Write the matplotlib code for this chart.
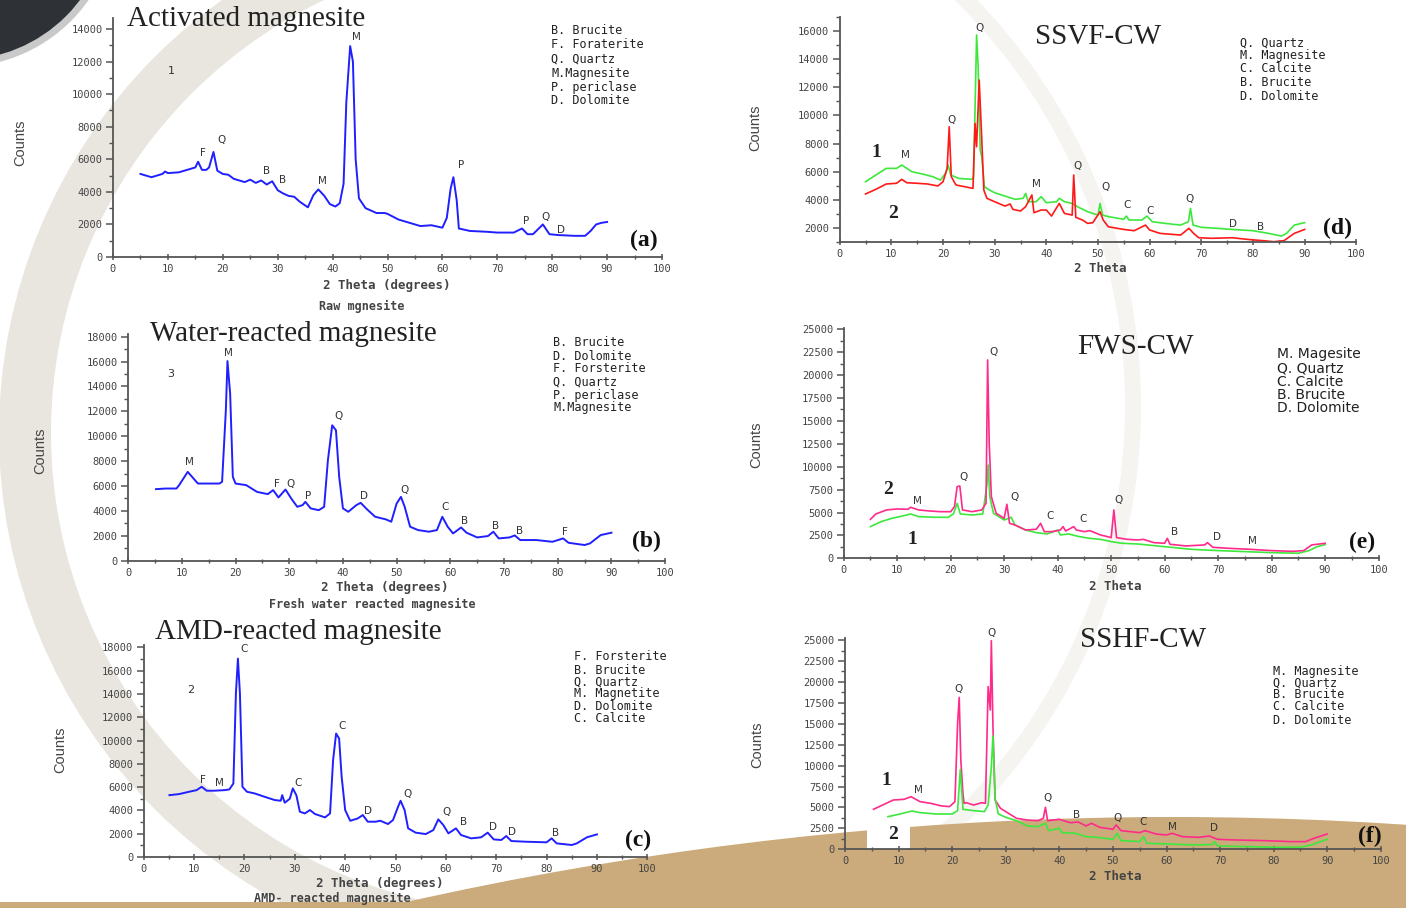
import matplotlib
matplotlib.use("Agg")
import matplotlib.pyplot as plt
from matplotlib.patches import Circle, Wedge, Rectangle
from matplotlib.transforms import Affine2D
from matplotlib.ticker import MultipleLocator

# ---------------- data (2 theta, counts) ----------------
a_theta = [5, 6, 7, 8, 9, 9.5, 10, 12, 13, 14, 15, 15.5, 16.2, 17, 17.5, 18.3, 19, 20, 21, 22, 24, 25, 26, 27, 28, 29,
           30, 31, 32, 33, 34, 35.5, 36.5, 37.4, 38.5, 39.5, 40.5, 41.3, 42, 42.5, 43.2, 43.7, 44.2, 44.8, 46, 48, 49.5,
           50, 52, 54, 56, 58, 60, 60.8, 61.5, 62, 62.6, 63, 65, 68, 70, 73, 74.5, 75.5, 76.5, 78.3, 79.5, 81, 84, 86,
           87, 88, 89, 90]
a_counts = [5100, 5000, 4900, 5000, 5100, 5250, 5150, 5200, 5300, 5400, 5500, 5850, 5350, 5350, 5500, 6450, 5300, 5100,
            5050, 4800, 4600, 4750, 4550, 4700, 4450, 4650, 4100, 3900, 3750, 3700, 3400, 3050, 3800, 4150, 3750, 3250,
            3100, 3300, 4500, 9500, 12950, 12000, 6000, 3600, 3000, 2700, 2700, 2650, 2300, 2100, 1900, 1950, 1800,
            2400, 4200, 4900, 3500, 1750, 1600, 1550, 1500, 1500, 1750, 1400, 1400, 2000, 1400, 1350, 1300, 1300,
            1600, 2000, 2100, 2150]

b_theta = [5.2, 7, 9, 9.5, 11.1, 13, 15, 17, 17.5, 18.2, 18.5, 19, 19.5, 20, 22, 24, 26, 27, 28, 29.3, 30.5, 31.5,
           32.5, 33, 34, 35.5, 36.5, 37.2, 38, 38.7, 39.3, 40, 41, 42.5, 43.3, 44.5, 46, 48, 49, 50, 50.8, 51.5, 52.5,
           54, 56, 57.5, 58.5, 59.5, 60.5, 62, 63, 65, 67, 68, 69, 71, 72, 73, 76, 79, 81, 82, 85, 86, 88, 90]
b_counts = [5750, 5800, 5800, 6070, 7140, 6200, 6200, 6200, 6340, 12090, 16040, 13420, 6740, 6200, 6070, 5530, 5350,
            5670, 5080, 5720, 4920, 4330, 4470, 4730, 4200, 4060, 4330, 8070, 10880, 10480, 6740, 4200, 3930, 4470,
            4650, 4120, 3530, 3320, 3130, 4600, 5130, 4330, 2730, 2460, 2330, 2460, 3530, 2730, 2190, 2670, 2250,
            1870, 1980, 2330, 1790, 1870, 2030, 1660, 1660, 1520, 1790, 1440, 1260, 1390, 2060, 2250]

c_theta = [5.1, 7, 9, 10.5, 11.5, 12.5, 14, 16, 17, 17.8, 18.3, 18.7, 19.1, 19.6, 20.5, 22, 24, 26, 27.2, 27.5, 28,
           29, 29.6, 30.3, 31, 32, 33, 34, 36, 37, 37.6, 38.2, 38.8, 39.3, 40, 41, 42.5, 43.5, 44.5, 46, 47, 48.5,
           49.5, 50.5, 51, 51.8, 52.5, 54, 56, 57.5, 58.5, 59.5, 60.5, 62, 63, 65, 67, 68.3, 69.5, 71, 72, 73, 76, 80,
           81, 82, 85, 86, 88, 90]
c_counts = [5310, 5400, 5600, 5740, 6030, 5690, 5690, 5740, 5800, 6310, 14030, 17030, 14030, 6030, 5600, 5460, 5170,
            4890, 4830, 5310, 4660, 5000, 5890, 5310, 3890, 3740, 4030, 3690, 3400, 3740, 8310, 10600, 10170, 6890,
            4030, 3110, 3310, 3600, 3030, 3030, 3110, 2830, 3170, 4310, 4830, 4030, 2460, 2090, 1970, 2310, 3230,
            2740, 2030, 2460, 1890, 1600, 1690, 2090, 1510, 1460, 1800, 1370, 1310, 1260, 1600, 1170, 1030, 1170,
            1690, 1940]

d1_theta = [5, 7, 9, 11, 12, 14, 16, 18, 19.5, 20.5, 21, 21.5, 23, 25.5, 25.9, 26.1, 26.5, 26.8, 27.2, 27.5, 28, 29,
            30, 32, 34, 35.5, 36, 36.5, 38, 39, 40, 42, 42.5, 43.5, 45, 46, 48, 50, 50.4, 50.9, 52, 55, 55.5, 56, 58.5,
            59.5, 60.5, 63, 66, 67.5, 67.9, 68.4, 70, 73, 76, 80, 83, 85.5, 86.5, 88, 90]
d1_counts = [5290, 5770, 6240, 6240, 6480, 6000, 5840, 5650, 5410, 5890, 6480, 5770, 5530, 5460, 5600, 8730, 15720,
             13470, 7540, 7070, 4940, 4700, 4510, 4270, 4040, 4110, 4460, 3870, 3870, 4230, 3800, 3870, 4110, 3870,
             3750, 3520, 3160, 2920, 3750, 2920, 2810, 2620, 2850, 2570, 2570, 2850, 2450, 2330, 2210, 2450, 3400,
             2210, 2050, 1980, 1900, 1810, 1620, 1430, 1620, 2210, 2380]
d2_theta = [5, 7, 9, 11, 12, 13, 15, 17, 19, 20, 20.8, 21.2, 21.6, 22.5, 25.8, 26.2, 26.5, 27, 27.4, 27.9, 28.5, 30,
            32, 33, 33.5, 35, 36, 37.2, 37.6, 39, 40, 41, 42.5, 43.5, 45, 45.3, 45.7, 47, 48, 49, 50.4, 51, 52, 55, 57,
            59.2, 60, 62, 66, 67.6, 68.5, 69.5, 72, 76, 79, 82, 84, 86, 88, 90]
d2_counts = [4420, 4750, 5130, 5180, 5460, 5220, 5180, 5130, 4990, 5290, 6240, 9200, 5650, 5060, 4820, 9440, 7780,
             12520, 9200, 4700, 4110, 3870, 3560, 3710, 3330, 3210, 3520, 4350, 3090, 3280, 3280, 2850, 3750, 3040,
             2920, 5770, 2760, 2570, 2330, 2380, 3160, 2570, 2090, 1900, 1810, 2210, 1860, 1620, 1500, 1980, 1620,
             1310, 1270, 1310, 1190, 1100, 1030, 1100, 1620, 1900]

e2_theta = [5, 6, 8, 10, 12, 12.5, 14, 16, 18, 20, 20.7, 21.2, 21.7, 22.2, 24, 25.8, 26.2, 26.6, 26.9, 27.2, 27.6,
            28.5, 30, 30.5, 31, 32, 34, 36, 36.8, 37.5, 39, 40.5, 41, 41.5, 43, 43.5, 45, 46, 48, 50, 50.5, 51, 53, 55,
            56, 58, 60, 60.5, 61, 64, 67.5, 68, 69, 72, 76, 80, 84, 86, 87.5, 90]
e2_counts = [4260, 4840, 5280, 5390, 5350, 5570, 5280, 5170, 5090, 5090, 5640, 7820, 7900, 5280, 5090, 5280, 5640,
             6000, 21650, 12550, 6730, 4910, 4370, 5900, 3820, 3640, 3090, 3170, 3820, 2910, 2910, 3090, 3460, 2980,
             3460, 3090, 2910, 3020, 2550, 2260, 5280, 2260, 2070, 2000, 2070, 1710, 1640, 2180, 1530, 1350, 1460,
             1710, 1200, 1090, 980, 840, 760, 840, 1460, 1640]
e1_theta = [5, 7, 9, 11, 12.5, 14, 17, 19.5, 20.5, 21.2, 21.8, 24, 26, 26.8, 27, 27.3, 28, 30, 31.3, 32, 34, 36, 38,
            40, 40.5, 42, 44, 46, 48, 50, 52, 55, 60, 65, 70, 75, 80, 85, 87, 88.5, 90]
e1_counts = [3460, 4000, 4370, 4620, 4840, 4550, 4480, 4480, 4840, 6000, 4840, 4730, 4840, 8190, 10190, 6730, 4910,
             4180, 4480, 3640, 3090, 2800, 2660, 3090, 2550, 2660, 2370, 2180, 2070, 1820, 1640, 1560, 1270, 980, 840,
             730, 620, 550, 840, 1270, 1490]

f1_theta = [5.3, 7, 9, 11, 12.3, 14, 16, 18, 19.5, 20.5, 21, 21.3, 21.6, 22, 22.2, 22.6, 24, 25.5, 26.2, 26.7, 27.1,
            27.3, 27.6, 28, 29, 30, 32, 34, 36, 37, 37.4, 37.8, 40, 42, 43.5, 45, 46, 47.5, 50, 50.6, 51.5, 55, 56, 58,
            60, 61, 63, 66, 68, 69.5, 73, 78, 83, 86, 87.5, 90]
f1_counts = [4780, 5290, 5890, 5970, 6290, 5690, 5490, 5180, 5100, 5690, 15050, 18150, 10670, 6690, 5490, 5570, 5290,
             5570, 5490, 19430, 16640, 24920, 14650, 5890, 4900, 4500, 3700, 3500, 3420, 3700, 5020, 3420, 3580, 3180,
             3260, 2790, 3110, 2630, 2390, 2910, 2230, 1990, 2230, 1830, 1710, 1910, 1510, 1430, 1590, 1190, 1110,
             1040, 920, 920, 1310, 1830]
f2_theta = [8, 10, 12.5, 14, 17, 20, 21, 21.5, 22, 24, 26, 26.7, 27.3, 27.6, 28, 28.6, 30, 32, 34, 36, 37.4, 38, 40,
            40.5, 43, 45, 47, 50, 50.8, 51.5, 55, 55.7, 56.3, 60, 65, 68.5, 69, 69.5, 75, 80, 85, 87, 90]
f2_counts = [3900, 4180, 4580, 4380, 4220, 4220, 4620, 9550, 4780, 4620, 4500, 5290, 9870, 13540, 6090, 4220, 3820,
             3420, 2790, 2710, 3110, 2230, 2510, 1990, 1910, 1510, 1430, 1190, 1910, 1040, 920, 1510, 720, 640, 520,
             560, 920, 400, 320, 240, 240, 520, 1190]

# peak annotations: (letter, 2theta, counts)
a_peaks = [('F', 16.4, 6390), ('Q', 19.8, 7160), ('B', 28.0, 5290), ('B', 30.8, 4710), ('M', 38.1, 4670),
           ('M', 44.3, 13530), ('P', 63.4, 5630), ('P', 75.2, 2220), ('Q', 78.8, 2430), ('D', 81.6, 1650)]
b_peaks = [('M', 11.5, 7910), ('M', 18.7, 16680), ('F', 27.7, 6150), ('Q', 30.3, 6200), ('P', 33.5, 5190),
           ('Q', 39.2, 11600), ('D', 43.9, 5190), ('Q', 51.4, 5720), ('C', 59.1, 4280), ('B', 62.6, 3210),
           ('B', 68.4, 2780), ('B', 72.8, 2350), ('F', 81.3, 2300)]
c_peaks = [('F', 11.8, 6600), ('M', 15.1, 6370), ('C', 20.0, 17890), ('C', 30.7, 6310), ('C', 39.3, 11260),
           ('D', 44.6, 3970), ('Q', 52.3, 5400), ('Q', 60.1, 3890), ('B', 63.5, 2970), ('D', 69.4, 2540),
           ('D', 73.2, 2170), ('B', 81.8, 2030)]
d_peaks = [('Q', 27.0, 16190), ('Q', 21.6, 9680), ('M', 12.7, 7170), ('M', 38.0, 5100), ('Q', 46.1, 6410),
           ('Q', 51.4, 4940), ('C', 55.7, 3660), ('C', 60.1, 3180), ('Q', 67.8, 4040), ('D', 76.1, 2280),
           ('B', 81.4, 2090)]
e_peaks = [('Q', 28.0, 22560), ('Q', 22.4, 8920), ('M', 13.8, 6300), ('Q', 32.0, 6660), ('C', 38.5, 4620),
           ('C', 44.7, 4260), ('Q', 51.3, 6370), ('B', 61.9, 2910), ('D', 69.8, 2290), ('M', 76.4, 1930)]
f_peaks = [('Q', 27.3, 25800), ('Q', 21.2, 19190), ('M', 13.6, 7090), ('Q', 37.8, 6170), ('B', 43.3, 4100),
           ('Q', 50.9, 3700), ('C', 55.7, 3300), ('M', 61.1, 2630), ('D', 68.8, 2510)]

a_legend = ['B. Brucite', 'F. Foraterite', 'Q. Quartz', 'M.Magnesite', 'P. periclase', 'D. Dolomite']
b_legend = ['B. Brucite', 'D. Dolomite', 'F. Forsterite', 'Q. Quartz', 'P. periclase', 'M.Magnesite']
c_legend = ['F. Forsterite', 'B. Brucite', 'Q. Quartz', 'M. Magnetite', 'D. Dolomite', 'C. Calcite']
d_legend = ['Q. Quartz', 'M. Magnesite', 'C. Calcite', 'B. Brucite', 'D. Dolomite']
e_legend = ['M. Magesite', 'Q. Quartz', 'C. Calcite', 'B. Brucite', 'D. Dolomite']
f_legend = ['M. Magnesite', 'Q. Quartz', 'B. Brucite', 'C. Calcite', 'D. Dolomite']

titles = ['Activated magnesite', 'Water-reacted magnesite', 'AMD-reacted magnesite', 'SSVF-CW', 'FWS-CW', 'SSHF-CW']
captions = ['Raw mgnesite', 'Fresh water reacted magnesite', 'AMD- reacted magnesite']

# ---------------- figure ----------------
plt.rcParams['font.family'] = ['DejaVu Sans']
W, H = 1406, 908
fig = plt.figure(figsize=(W / 100, H / 100), dpi=100)
fig.patch.set_facecolor('white')
PX = Affine2D().scale(1 / W, -1 / H).translate(0, 1) + fig.transFigure


def bg(p, z):
    p.set_transform(PX)
    p.set_zorder(z)
    p.set_linewidth(0)
    fig.add_artist(p)


# background decoration
bg(Wedge((556, 406), 585, -90, 90, width=16, facecolor='#f5f4f1'), -9)
bg(Wedge((531, 433), 532, 90, 270, width=52, facecolor='#e9e6df'), -8)
bg(Circle((-40, -90), 157, facecolor='#c9c9c9'), -7)
bg(Circle((-40, -90), 150, facecolor='#2e3136'), -6)
bg(Circle((1173, 4317), 3500, facecolor='#cbab7c'), -5)
bg(Rectangle((0, 902), 720, 6, facecolor='#cbab7c'), -5)
bg(Rectangle((867, 822), 43, 27, facecolor='white'), -4)

MONO = ['DejaVu Sans Mono', 'DejaVu Sans']
SERIF = ['Liberation Serif', 'DejaVu Serif']


def ptext(x, y, s, **kw):
    fig.text(x / W, 1 - y / H, s, **kw)


def make_axes(left, right, bottom, top, ylim, major, minor):
    ax = fig.add_axes([left / W, 1 - bottom / H, (right - left) / W, (bottom - top) / H])
    ax.set_facecolor('none')
    ax.set_xlim(0, 100)
    ax.set_ylim(*ylim)
    for s in ('top', 'right'):
        ax.spines[s].set_visible(False)
    for s in ('left', 'bottom'):
        ax.spines[s].set_color('#555555')
        ax.spines[s].set_linewidth(1.3)
    ax.xaxis.set_major_locator(MultipleLocator(10))
    ax.xaxis.set_minor_locator(MultipleLocator(5))
    ax.yaxis.set_major_locator(MultipleLocator(major))
    ax.yaxis.set_minor_locator(MultipleLocator(minor))
    ax.tick_params(which='major', length=5, width=1.1, color='#555555', labelsize=7.5,
                   labelcolor='#444444', pad=2.5)
    ax.tick_params(which='minor', length=3, width=1, color='#555555')
    ax.tick_params(axis='x', which='both', direction='inout')
    for lab in ax.get_xticklabels() + ax.get_yticklabels():
        lab.set_family(MONO)
    return ax


def peaks(ax, lst):
    for s, x, y in lst:
        ax.text(x, y, s, ha='center', va='center', fontsize=7.5, color='#333333')


def legend_block(x, ys, items, size=8.5, family=MONO):
    for y, s in zip(ys, items):
        ptext(x, y, s, ha='left', va='center', fontsize=size, color='#222222', family=family)


BLUE = '#2020ff'
GREEN = '#3de83d'
RED = '#ff1a1a'
PINK = '#ff2a8a'

# (a)
ax = make_axes(113, 662, 257, 17.6, (0, 14700), 2000, 1000)
ax.plot(a_theta, a_counts, color=BLUE, lw=1.4)
peaks(ax, a_peaks)
ax.text(10.7, 11450, '1', ha='center', va='center', fontsize=8, color='#333333')
# (b)
ax = make_axes(128.1, 665.2, 560.7, 334.2, (0, 18200), 2000, 1000)
ax.plot(b_theta, b_counts, color=BLUE, lw=1.4)
peaks(ax, b_peaks)
ax.text(7.9, 15030, '3', ha='center', va='center', fontsize=8, color='#333333')
# (c)
ax = make_axes(143.75, 647.3, 857, 645, (0, 18200), 2000, 1000)
ax.plot(c_theta, c_counts, color=BLUE, lw=1.4)
peaks(ax, c_peaks)
ax.text(9.3, 14310, '2', ha='center', va='center', fontsize=8, color='#333333')
# (d)
ax = make_axes(839.7, 1356.3, 242.1, 17.0, (1000, 17000), 2000, 1000)
ax.plot(d1_theta, d1_counts, color=GREEN, lw=1.2)
ax.plot(d2_theta, d2_counts, color=RED, lw=1.2)
peaks(ax, d_peaks)
ax.text(7.1, 7360, '1', ha='center', va='center', fontsize=14, fontweight='bold', family=SERIF, color='#222222')
ax.text(10.4, 3040, '2', ha='center', va='center', fontsize=14, fontweight='bold', family=SERIF, color='#222222')
# (e)
ax = make_axes(843.75, 1378.6, 558.3, 327.5, (0, 25200), 2500, 1250)
ax.plot(e1_theta, e1_counts, color=GREEN, lw=1.2)
ax.plot(e2_theta, e2_counts, color=PINK, lw=1.2)
peaks(ax, e_peaks)
ax.text(8.2, 7460, '2', ha='center', va='center', fontsize=14, fontweight='bold', family=SERIF, color='#222222')
ax.text(12.8, 2000, '1', ha='center', va='center', fontsize=14, fontweight='bold', family=SERIF, color='#222222')
# (f)
ax = make_axes(845.1, 1380.8, 849.3, 638.4, (0, 25200), 2500, 1250)
ax.plot(f1_theta, f1_counts, color=PINK, lw=1.2)
ax.plot(f2_theta, f2_counts, color=GREEN, lw=1.2)
peaks(ax, f_peaks)
ax.text(7.75, 8280, '1', ha='center', va='center', fontsize=14, fontweight='bold', family=SERIF, color='#222222')
ax.text(9.0, 1710, '2', ha='center', va='center', fontsize=14, fontweight='bold', family=SERIF, color='#222222')

# titles
for (x, y), t in zip([(127, 19), (150, 334), (155, 632), (1035, 37), (1077, 347), (1080, 640)], titles):
    ptext(x, y, t, ha='left', va='center', fontsize=21, family=SERIF, color='#222222')

# panel letters
for (x, y), t in zip([(644, 240), (646, 541), (638, 840), (1338, 228), (1362, 542), (1370, 836)],
                     ['(a)', '(b)', '(c)', '(d)', '(e)', '(f)']):
    ptext(x, y, t, ha='center', va='center', fontsize=17, fontweight='bold', family=SERIF, color='#111111')

# legends
legend_block(551, [30, 44, 59, 73, 87, 101], a_legend)
legend_block(553, [343, 356, 369, 382, 395, 408], b_legend)
legend_block(574, [657, 670, 682, 694, 706, 719], c_legend)
legend_block(1240, [43, 56, 69, 82, 96], d_legend)
legend_block(1277, [354, 368, 382, 395, 408], e_legend, size=10, family=['DejaVu Sans'])
legend_block(1273, [671, 683, 695, 707, 720], f_legend)

# y labels
for x, y in [(20, 143), (40, 451), (60, 750), (755, 128), (756, 445), (757, 745)]:
    ptext(x, y, 'Counts', ha='center', va='center', rotation=90, fontsize=10.5,
          family=['Liberation Sans', 'DejaVu Sans'], color='#444444')

# x labels and captions
for (x, y) in [(387, 286), (385, 587), (380, 883)]:
    ptext(x, y, '2 Theta (degrees)', ha='center', va='center', fontsize=9, fontweight='bold',
          family=MONO, color='#444444')
for (x, y) in [(1100, 269), (1115, 586), (1115, 876)]:
    ptext(x, y, '2 Theta', ha='center', va='center', fontsize=9, fontweight='bold', family=MONO, color='#444444')
for (x, y), t in zip([(362, 306), (372, 604), (332, 898)], captions):
    ptext(x, y, t, ha='center', va='center', fontsize=8.5, fontweight='bold', family=MONO, color='#444444')

fig.savefig('out.png', dpi=100, facecolor=fig.get_facecolor())
